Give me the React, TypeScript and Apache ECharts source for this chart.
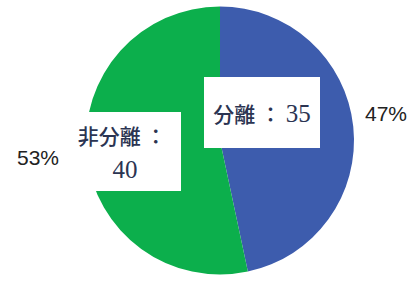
import React, { useEffect, useRef } from "react";
import * as echarts from "echarts";

const categories = ["分離", "非分離"];
const values = [35, 40];
const colors = ["#3d5cad", "#0caf4c"];

export default function App() {
  const ref = useRef<HTMLDivElement>(null);
  useEffect(() => {
    if (!ref.current) return;
    const chart = echarts.init(ref.current, null, { renderer: "svg" });
    const total = values.reduce((a, b) => a + b, 0);
    const pct = values.map((v) => `${Math.round((v / total) * 100)}%`);
    const textColor = "#2b3452";
    const rich = {
      a: {
        fontFamily: "'Noto Sans CJK JP', sans-serif",
        fontSize: 21,
        fontWeight: 500,
        fill: textColor,
        color: textColor,
      },
      c: {
        fontFamily: "'Liberation Serif', serif",
        fontSize: 25,
        fill: textColor,
        color: textColor,
      },
    };
    chart.setOption({
      animation: false,
      backgroundColor: "#ffffff",
      series: [
        {
          type: "pie",
          center: [220, 140.5],
          radius: [0, 134],
          startAngle: 90,
          clockwise: true,
          label: { show: false },
          labelLine: { show: false },
          silent: true,
          data: categories.map((c, i) => ({
            name: c,
            value: values[i],
            itemStyle: { color: colors[i] },
          })),
        },
      ],
      graphic: [
        {
          type: "rect",
          z: 100,
          shape: { x: 204, y: 77, width: 116, height: 71 },
          style: { fill: "#ffffff" },
        },
        {
          type: "text",
          z: 101,
          x: 262,
          y: 113,
          style: {
            text: `{a|${categories[0]} ： }{c|${values[0]}}`,
            rich,
            align: "center",
            verticalAlign: "middle",
          },
        },
        {
          type: "rect",
          z: 100,
          shape: { x: 60, y: 112, width: 121, height: 79 },
          style: { fill: "#ffffff" },
        },
        {
          type: "text",
          z: 101,
          x: 122,
          y: 135,
          style: {
            text: `{a|${categories[1]} ：}`,
            rich,
            align: "center",
            verticalAlign: "middle",
          },
        },
        {
          type: "text",
          z: 101,
          x: 125,
          y: 169,
          style: {
            text: `{c|${values[1]}}`,
            rich,
            align: "center",
            verticalAlign: "middle",
          },
        },
        {
          type: "text",
          z: 101,
          x: 386,
          y: 113,
          style: {
            text: pct[0],
            font: "21px 'Liberation Sans', Arial, sans-serif",
            fill: "#222222",
            align: "center",
            verticalAlign: "middle",
          },
        },
        {
          type: "text",
          z: 101,
          x: 38,
          y: 157,
          style: {
            text: pct[1],
            font: "21px 'Liberation Sans', Arial, sans-serif",
            fill: "#222222",
            align: "center",
            verticalAlign: "middle",
          },
        },
      ],
    });
    return () => chart.dispose();
  }, []);
  return (
    <div
      ref={ref}
      style={{ position: "fixed", left: 0, top: 0, width: 414, height: 282 }}
    />
  );
}
